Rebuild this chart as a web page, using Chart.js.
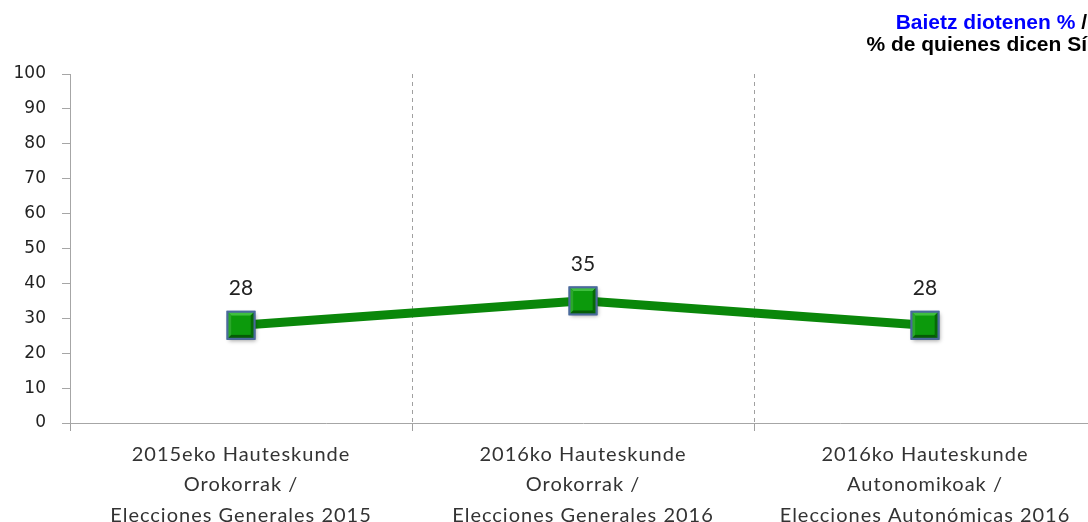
<!DOCTYPE html>
<html>
<head>
<meta charset="utf-8">
<script src="https://cdn.jsdelivr.net/npm/chart.js@4/dist/chart.umd.min.js"></script>
<style>
    html, body { margin: 0; padding: 0; background: #fff; overflow: hidden; width: 1088px; height: 522px; }
    #wrap { position: absolute; left: 0; top: 0; width: 1117px; height: 522px; }
    #title {
        position: absolute; left: 0; top: 11px; width: 1087px; text-align: right;
        font: bold 21px "Liberation Sans", Arial, sans-serif; line-height: 22px; color: #000;
        white-space: nowrap;
    }
    #title .eu { color: #0000ff; }
</style>
</head>
<body>
<div id="wrap"><canvas id="chart" width="1117" height="522"></canvas></div>
<div id="title"><span class="eu">Baietz diotenen %</span> /<br>% de quienes dicen Sí</div>
<script>
const categories = [
    ['2015eko Hauteskunde', 'Orokorrak /', 'Elecciones Generales 2015'],
    ['2016ko Hauteskunde', 'Orokorrak /', 'Elecciones Generales 2016'],
    ['2016ko Hauteskunde', 'Autonomikoak /', 'Elecciones Autonómicas 2016']
];
const yesValues = [28, 35, 28];
const yTicks = [0, 10, 20, 30, 40, 50, 60, 70, 80, 90, 100];

// wider letter spacing for the category labels (the original font is wide)
const spacedLabels = {
    id: 'spacedLabels',
    beforeDraw(chart) {
        const xs = chart.scales.x;
        if (xs && !xs._spaced) {
            const orig = xs.drawLabels.bind(xs);
            xs.drawLabels = function (area) {
                this.ctx.save();
                this.ctx.letterSpacing = '1px';
                orig(area);
                this.ctx.restore();
            };
            xs._spaced = true;
        }
    }
};

// bevelled square markers with a soft shadow, plus value labels
const markers = {
    id: 'markers',
    afterDatasetsDraw(chart) {
        const ctx = chart.ctx;
        const meta = chart.getDatasetMeta(0);
        const h = 13.5;
        ctx.save();
        meta.data.forEach((pt, i) => {
            const x = pt.x, y = pt.y;
            ctx.save();
            ctx.shadowColor = 'rgba(0,0,0,0.35)';
            ctx.shadowBlur = 4;
            ctx.shadowOffsetX = 1.5;
            ctx.shadowOffsetY = 2;
            ctx.fillStyle = '#0a8a0a';
            ctx.fillRect(x - h, y - h, 2 * h, 2 * h);
            ctx.restore();

            // bevel edges
            const b = 4;
            ctx.fillStyle = '#3fbf3f';
            ctx.beginPath();
            ctx.moveTo(x - h, y - h); ctx.lineTo(x + h, y - h); ctx.lineTo(x + h - b, y - h + b);
            ctx.lineTo(x - h + b, y - h + b); ctx.closePath(); ctx.fill();
            ctx.fillStyle = '#2aa82a';
            ctx.beginPath();
            ctx.moveTo(x - h, y - h); ctx.lineTo(x - h + b, y - h + b); ctx.lineTo(x - h + b, y + h - b);
            ctx.lineTo(x - h, y + h); ctx.closePath(); ctx.fill();
            ctx.fillStyle = '#066a06';
            ctx.beginPath();
            ctx.moveTo(x + h, y - h); ctx.lineTo(x + h, y + h); ctx.lineTo(x + h - b, y + h - b);
            ctx.lineTo(x + h - b, y - h + b); ctx.closePath(); ctx.fill();
            ctx.fillStyle = '#055c05';
            ctx.beginPath();
            ctx.moveTo(x - h, y + h); ctx.lineTo(x + h, y + h); ctx.lineTo(x + h - b, y + h - b);
            ctx.lineTo(x - h + b, y + h - b); ctx.closePath(); ctx.fill();
            ctx.fillStyle = '#0c9a0c';
            ctx.fillRect(x - h + b, y - h + b, 2 * (h - b), 2 * (h - b));

            ctx.strokeStyle = '#4a6a9c';
            ctx.lineWidth = 2;
            ctx.strokeRect(x - h, y - h, 2 * h, 2 * h);

            ctx.font = '21px Lato, "Open Sans", sans-serif';
            ctx.fillStyle = '#222';
            ctx.textAlign = 'center';
            ctx.textBaseline = 'middle';
            ctx.fillText(String(yesValues[i]), x, y - 37);
        });
        ctx.restore();
    }
};

const ctx = document.getElementById('chart').getContext('2d');
new Chart(ctx, {
    type: 'line',
    data: {
        labels: categories,
        datasets: [{
            data: yesValues,
            borderColor: '#0a870a',
            borderWidth: 9,
            pointStyle: 'rect',
            pointRadius: 19,
            pointHoverRadius: 19,
            pointBackgroundColor: '#0c9c0c',
            pointBorderColor: '#4a6a9c',
            pointBorderWidth: 2,
            tension: 0
        }]
    },
    options: {
        responsive: false,
        animation: false,
        layout: { padding: { top: 74, left: 0, right: 0, bottom: 0 } },
        plugins: {
            legend: { display: false },
            tooltip: { enabled: false }
        },
        scales: {
            x: {
                offset: true,
                grid: {
                    offset: true,
                    color: '#a0a0a0',
                    tickColor: '#a0a0a0',
                    tickLength: 8,
                    drawOnChartArea: true
                },
                border: { color: '#a6a6a6', width: 1, dash: [4, 4] },
                ticks: {
                    color: '#333',
                    padding: 8,
                    maxRotation: 0,
                    autoSkip: false,
                    font: { family: 'Lato, "Open Sans", sans-serif', size: 20, lineHeight: 1.525 }
                },
                afterFit: s => { s.height = 99; }
            },
            y: {
                min: 0,
                max: 100,
                afterBuildTicks: s => { s.ticks = yTicks.map(v => ({ value: v })); },
                grid: {
                    drawOnChartArea: false,
                    tickLength: 8,
                    tickColor: '#a6a6a6'
                },
                border: { color: '#a6a6a6', width: 1 },
                ticks: {
                    color: '#222',
                    padding: 16,
                    font: { family: '"DejaVu Sans", sans-serif', size: 17 }
                },
                afterFit: s => { s.width = 70; }
            }
        }
    },
    plugins: [spacedLabels, markers]
});
</script>
</body>
</html>
